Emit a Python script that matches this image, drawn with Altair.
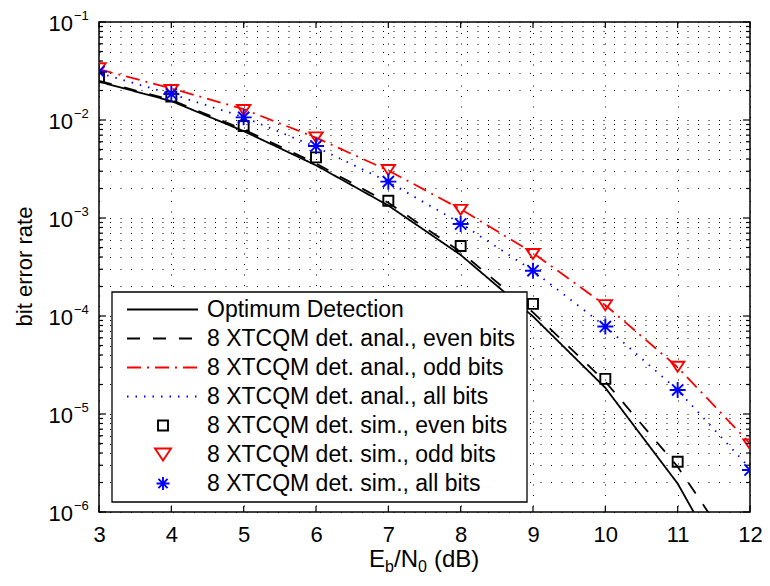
import altair as alt
import pandas as pd

# ---------------- data ----------------
ebn0 = [3, 4, 5, 6, 7, 8, 9, 10, 11, 12]

optimum = [0.0246, 0.0156, 0.0077, 0.00345, 0.00134, 0.00042, 0.000099, 1.85e-5, 1.95e-6, 9.5e-8]
anal_even = [0.0251, 0.0160, 0.0080, 0.00360, 0.00143, 0.00045, 0.000109, 2.14e-5, 2.9e-6, 2.3e-7]
anal_odd = [0.0330, 0.0210, 0.0129, 0.0066, 0.00305, 0.00123, 0.00044, 0.000129, 3.0e-5, 5.0e-6]
anal_all = [0.0302, 0.0184, 0.0107, 0.0053, 0.00234, 0.00088, 0.00029, 7.8e-5, 1.75e-5, 2.8e-6]

sim_even = [0.0273, 0.0173, 0.0087, 0.00416, 0.00150, 0.000518, 0.000133, 2.28e-5, 3.26e-6]
sim_odd = [0.0337, 0.0202, 0.01265, 0.00665, 0.00309, 0.00121, 0.000429, 0.000129, 3.04e-5, 4.9e-6]
sim_all = [0.0311, 0.0184, 0.01064, 0.00543, 0.00235, 0.000868, 0.00029, 7.8e-5, 1.76e-5, 2.68e-6]

line_names = ["Optimum Detection",
              "8 XTCQM det. anal., even bits",
              "8 XTCQM det. anal., odd bits",
              "8 XTCQM det. anal., all bits"]
point_names = ["8 XTCQM det. sim., even bits",
               "8 XTCQM det. sim., odd bits",
               "8 XTCQM det. sim., all bits"]

x_ticks = [3, 4, 5, 6, 7, 8, 9, 10, 11, 12]
decades = [1e-1, 1e-2, 1e-3, 1e-4, 1e-5, 1e-6]
decade_exps = ["\u22121", "\u22122", "\u22123", "\u22124", "\u22125", "\u22126"]
minor = [m * d for d in [1e-2, 1e-3, 1e-4, 1e-5, 1e-6] for m in [2, 3, 4, 5, 6, 7, 8, 9]]

# ---------------- styles ----------------
W, H = 651, 490
FONT = "Liberation Sans"
line_colors = ["#000000", "#000000", "#ff0000", "#0000ff"]
line_dashes = [[1, 0], [13, 13], [14, 6, 2, 6], [1.5, 7]]
point_colors = ["#000000", "#ff0000", "#0000ff"]
tri_down = "M-1,-0.75L1,-0.75L0,0.75Z"
asterisk = "M-1,0L1,0M0,-1L0,1M-0.7,-0.7L0.7,0.7M-0.7,0.7L0.7,-0.7"
point_shapes = ["square", tri_down, asterisk]
point_sizes = [100, 256, 170]

rows = []
for name, ys in zip(line_names, [optimum, anal_even, anal_odd, anal_all]):
    for x, y in zip(ebn0, ys):
        rows.append({"x": x, "y": y, "series": name})
line_df = pd.DataFrame(rows)

rows = []
for name, ys in zip(point_names, [sim_even, sim_odd, sim_all]):
    for x, y in zip(ebn0, ys):
        rows.append({"x": x, "y": y, "series": name})
pt_df = pd.DataFrame(rows)

xsc = alt.Scale(domain=[3, 12], nice=False, zero=False)
ysc = alt.Scale(type="log", domain=[1e-6, 1e-1], nice=False)

grid_dash = [1, 9.5]

XAXIS = alt.Axis(
    values=x_ticks, grid=True, gridDash=grid_dash, gridColor="#000000", gridOpacity=1,
    gridWidth=1, ticks=False, domain=False, labelFont=FONT, labelFontSize=22,
    labelColor="#000000", labelPadding=12, labelFlush=False, labelOverlap=False, title=None)
YAXIS = alt.Axis(
    values=decades + minor, grid=True, gridDash=grid_dash, gridColor="#000000", gridOpacity=1,
    gridWidth=1, ticks=False, domain=False, labels=False,
    title="bit error rate", titleFont=FONT, titleFontSize=22, titleFontWeight="normal",
    titleColor="#000000", titleX=-75, titleY=244, titleAngle=270, titleAlign="center",
    titleBaseline="middle")

lines = alt.Chart(line_df).mark_line(clip=True, strokeWidth=1.8).encode(
    x=alt.X("x:Q", scale=xsc, axis=XAXIS),
    y=alt.Y("y:Q", scale=ysc, axis=YAXIS),
    color=alt.Color("series:N", scale=alt.Scale(domain=line_names, range=line_colors), legend=None),
    strokeDash=alt.StrokeDash("series:N", scale=alt.Scale(domain=line_names, range=line_dashes), legend=None),
)

points = alt.Chart(pt_df).mark_point(clip=True, filled=False, strokeWidth=1.9, opacity=1).encode(
    x=alt.X("x:Q", scale=xsc, axis=XAXIS),
    y=alt.Y("y:Q", scale=ysc, axis=YAXIS),
    stroke=alt.Stroke("series:N", scale=alt.Scale(domain=point_names, range=point_colors), legend=None),
    shape=alt.Shape("series:N", scale=alt.Scale(domain=point_names, range=point_shapes), legend=None),
    size=alt.Size("series:N", scale=alt.Scale(domain=point_names, range=point_sizes), legend=None),
)

dec_df = pd.DataFrame({"y": decades, "e": decade_exps})
minor_df = pd.DataFrame({"y": minor})
xt_df = pd.DataFrame({"x": x_ticks})

def yrule(df, x0, x1):
    return alt.Chart(df).mark_rule(color="#000000", strokeWidth=1.2).encode(
        y=alt.Y("y:Q", scale=ysc, axis=YAXIS), x=alt.value(x0), x2=alt.value(x1))

def xrule(df, y0, y1):
    return alt.Chart(df).mark_rule(color="#000000", strokeWidth=1.2).encode(
        x=alt.X("x:Q", scale=xsc, axis=XAXIS), y=alt.value(y0), y2=alt.value(y1))

ticks = [
    yrule(dec_df, 0, 7), yrule(dec_df, W - 7, W),
    yrule(minor_df, 0, 4), yrule(minor_df, W - 4, W),
    xrule(xt_df, H - 6, H), xrule(xt_df, 0, 6),
]

ylab_base = alt.Chart(dec_df).mark_text(align="right", baseline="alphabetic", font=FONT,
                                        fontSize=22, dy=9, color="#000000").encode(
    y=alt.Y("y:Q", scale=ysc, axis=YAXIS), x=alt.value(-26), text=alt.value("10"))
ylab_exp = alt.Chart(dec_df).mark_text(align="left", baseline="alphabetic", font=FONT,
                                       fontSize=13, dy=-2, color="#000000").encode(
    y=alt.Y("y:Q", scale=ysc, axis=YAXIS), x=alt.value(-25), text="e:N")

one = pd.DataFrame({"a": [0]})

def txt(s, x, y, size):
    return alt.Chart(one).mark_text(align="left", baseline="alphabetic", font=FONT,
                                    fontSize=size, color="#000000").encode(
        x=alt.value(x), y=alt.value(y), text=alt.value(s))

xtitle = [
    txt("E", 270, 545, 24),
    txt("b", 286, 550, 16),
    txt("/N", 295, 545, 24),
    txt("0", 319, 550, 16),
    txt("(dB)", 335, 545, 24),
]

# legend (drawn as marks)
LFS = 23
leg_box = alt.Chart(one).mark_rect(fill="#ffffff", stroke="#000000", strokeWidth=1.3).encode(
    x=alt.value(13), x2=alt.value(428), y=alt.value(270), y2=alt.value(480))
legend_layers = [leg_box]
row0, drow = 287.5, 29
for i, name in enumerate(line_names):
    yy = row0 + drow * i
    legend_layers.append(alt.Chart(one).mark_rule(
        color=line_colors[i], strokeDash=line_dashes[i], strokeWidth=1.8).encode(
        x=alt.value(28), x2=alt.value(99), y=alt.value(yy)))
    legend_layers.append(alt.Chart(one).mark_text(
        align="left", baseline="middle", font=FONT, fontSize=LFS, color="#000000").encode(
        x=alt.value(108), y=alt.value(yy), text=alt.value(name)))
for j, name in enumerate(point_names):
    yy = row0 + drow * (j + 4)
    legend_layers.append(alt.Chart(one).mark_point(
        shape=point_shapes[j], size=point_sizes[j], filled=False, stroke=point_colors[j],
        strokeWidth=1.9, opacity=1).encode(x=alt.value(64), y=alt.value(yy)))
    legend_layers.append(alt.Chart(one).mark_text(
        align="left", baseline="middle", font=FONT, fontSize=LFS, color="#000000").encode(
        x=alt.value(108), y=alt.value(yy), text=alt.value(name)))

chart = alt.layer(
    lines, points, *ticks, ylab_base, ylab_exp, *xtitle, *legend_layers
).properties(
    width=W, height=H,
    padding={"left": 91, "top": 14, "right": 12, "bottom": 62},
    autosize=alt.AutoSizeParams(type="none"),
).configure_view(stroke="#000000", strokeWidth=1.5)

chart.save("out.html", embed_options={"renderer": "svg", "actions": False})
